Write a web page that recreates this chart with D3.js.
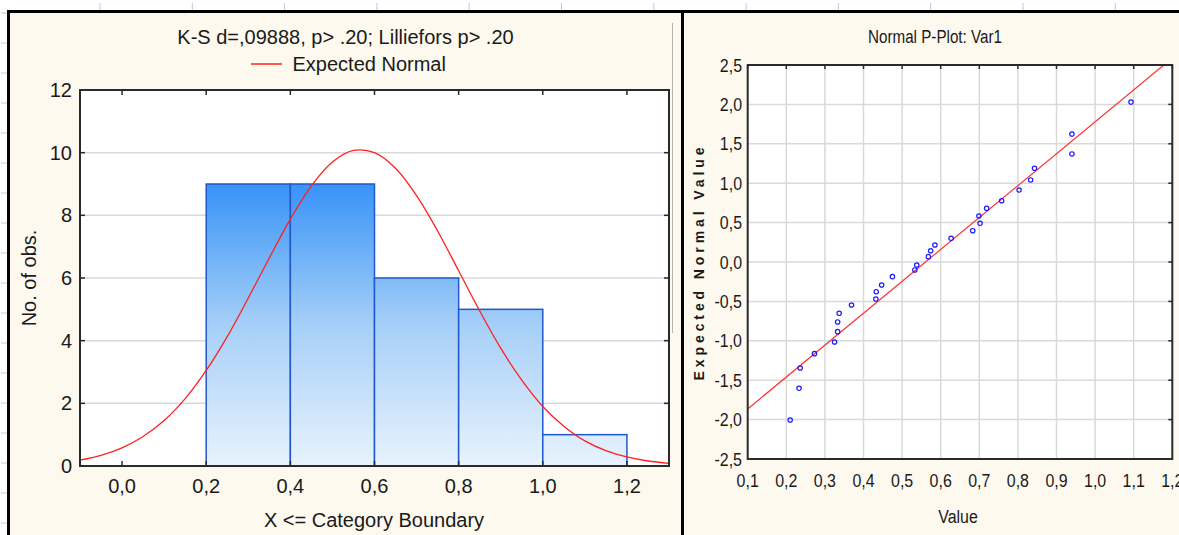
<!DOCTYPE html>
<html>
<head>
<meta charset="utf-8">
<script src="https://cdn.jsdelivr.net/npm/d3@7/dist/d3.min.js"></script>
<style>
  html, body { margin: 0; padding: 0; background: #fff; }
  svg { display: block; }
  .sans { font-family: 'Liberation Sans', Arial, sans-serif; }
  .narrow { font-family: 'Liberation Sans', Arial, sans-serif; }
</style>
</head>
<body>
<svg id="chart" width="1179" height="535"></svg>
<script>
// ---------------- Data ----------------
// Histogram (left panel)
const binStart = [0.2, 0.4, 0.6, 0.8, 1.0];
const binEnd   = [0.4, 0.6, 0.8, 1.0, 1.2];
const binCount = [9, 9, 6, 5, 1];
const histXTicks = [0.0, 0.2, 0.4, 0.6, 0.8, 1.0, 1.2];
const histYTicks = [0, 2, 4, 6, 8, 10, 12];
// Expected normal curve
const curveX = [-0.1, -0.05, 0.0, 0.05, 0.1, 0.15, 0.2, 0.25, 0.3, 0.35, 0.4, 0.45, 0.5, 0.55, 0.6, 0.65, 0.7, 0.75, 0.8, 0.85, 0.9, 0.95, 1.0, 1.05, 1.1, 1.15, 1.2, 1.25, 1.3];
const curveY = [0.19, 0.34, 0.58, 0.94, 1.45, 2.15, 3.05, 4.13, 5.36, 6.64, 7.88, 8.94, 9.70, 10.07, 10.00, 9.50, 8.63, 7.50, 6.23, 4.95, 3.76, 2.74, 1.90, 1.27, 0.80, 0.49, 0.29, 0.16, 0.085];
const histTitle = "K-S d=,09888, p> .20; Lilliefors p> .20";
const histLegend = "Expected Normal";
const histXLabel = "X <= Category Boundary";
const histYLabel = "No. of obs.";

// Normal probability plot (right panel)
const ppX = [0.210, 0.233, 0.236, 0.273, 0.325, 0.333, 0.333, 0.337, 0.369, 0.432, 0.433, 0.447, 0.475, 0.533, 0.538, 0.568, 0.574, 0.585, 0.627, 0.683, 0.699, 0.702, 0.719, 0.758, 0.803, 0.833, 0.843, 0.940, 0.940, 1.093];
const ppY = [-2.005, -1.603, -1.345, -1.163, -1.015, -0.884, -0.761, -0.651, -0.546, -0.470, -0.377, -0.292, -0.186, -0.101, -0.038, 0.068, 0.143, 0.216, 0.300, 0.397, 0.584, 0.491, 0.681, 0.778, 0.914, 1.041, 1.189, 1.371, 1.624, 2.030];
const ppLineX = [0.1, 1.178];
const ppLineY = [-1.865, 2.5];
const ppXTicks = [0.1, 0.2, 0.3, 0.4, 0.5, 0.6, 0.7, 0.8, 0.9, 1.0, 1.1, 1.2];
const ppYTicks = [-2.5, -2.0, -1.5, -1.0, -0.5, 0.0, 0.5, 1.0, 1.5, 2.0, 2.5];
const ppTitle = "Normal P-Plot: Var1";
const ppXLabel = "Value";
const ppYLabel = "Expected Normal Value";

// ---------------- Drawing ----------------
const svg = d3.select("#chart");
const W = 1179, H = 535;
const cream = "#fdf9ef";
const gridC = "#d9d9d9";
const frameC = "#2a2a2a";
const txtC = "#1a1a1a";
const fmt1 = d => d3.format(".1f")(d).replace(".", ",").replace("\u2212", "-");
const NS = 0.84; // horizontal squeeze for the narrow font of the right panel

// background strips with faint ticks
svg.append("rect").attr("width", W).attr("height", H).attr("fill", "#fff");
const topTicks = d3.range(0, 12).map(i => 100 + i * 92.3);
svg.selectAll(".tt").data(topTicks).join("line")
  .attr("x1", d => d).attr("x2", d => d).attr("y1", 3).attr("y2", 10)
  .attr("stroke", "#c8c8c8").attr("stroke-width", 1);
const leftTicks = d3.range(0, 18).map(i => 13 + i * 30);
svg.selectAll(".lt").data(leftTicks).join("line")
  .attr("x1", 1).attr("x2", 7).attr("y1", d => d).attr("y2", d => d)
  .attr("stroke", "#c8c8c8").attr("stroke-width", 1);

// panels
svg.append("rect").attr("x", 8).attr("y", 11).attr("width", 674).attr("height", H - 11).attr("fill", cream);
svg.append("rect").attr("x", 682).attr("y", 11).attr("width", W - 682).attr("height", H - 11).attr("fill", cream);
svg.append("line").attr("x1", 672.5).attr("x2", 672.5).attr("y1", 23).attr("y2", 333).attr("stroke", "#b4b4b4").attr("stroke-width", 1);

// ===== Left panel: histogram =====
const L = { x0: 80, x1: 669, y0: 90, y1: 466 };
const hx = d3.scaleLinear().domain([-0.1, 1.3]).range([L.x0, L.x1]);
const hy = d3.scaleLinear().domain([0, 12]).range([L.y1, L.y0]);

svg.append("rect").attr("x", L.x0).attr("y", L.y0).attr("width", L.x1 - L.x0).attr("height", L.y1 - L.y0).attr("fill", "#fff");

svg.append("g").selectAll("line").data(histYTicks.filter(d => d > 0 && d < 12)).join("line")
  .attr("x1", L.x0).attr("x2", L.x1).attr("y1", d => hy(d)).attr("y2", d => hy(d))
  .attr("stroke", gridC).attr("stroke-width", 1.5);

const defs = svg.append("defs");
const grad = defs.append("linearGradient").attr("id", "barGrad")
  .attr("gradientUnits", "userSpaceOnUse")
  .attr("x1", 0).attr("x2", 0).attr("y1", hy(9)).attr("y2", hy(0));
grad.append("stop").attr("offset", "0").attr("stop-color", "#3893f7");
grad.append("stop").attr("offset", "0.5").attr("stop-color", "#a6cff8");
grad.append("stop").attr("offset", "1").attr("stop-color", "#e8f3fd");

defs.append("clipPath").attr("id", "clipL").append("rect")
  .attr("x", L.x0).attr("y", L.y0).attr("width", L.x1 - L.x0).attr("height", L.y1 - L.y0);

const bars = binCount.map((c, i) => ({ s: binStart[i], e: binEnd[i], c }));
svg.append("g").selectAll("rect").data(bars).join("rect")
  .attr("x", d => hx(d.s)).attr("width", d => hx(d.e) - hx(d.s))
  .attr("y", d => hy(d.c)).attr("height", d => hy(0) - hy(d.c))
  .attr("fill", "url(#barGrad)").attr("stroke", "#2158cc").attr("stroke-width", 1.5);

const curvePts = curveX.map((x, i) => [x, curveY[i]]);
svg.append("path").datum(curvePts)
  .attr("clip-path", "url(#clipL)")
  .attr("d", d3.line().x(d => hx(d[0])).y(d => hy(d[1])).curve(d3.curveCatmullRom))
  .attr("fill", "none").attr("stroke", "#ff2020").attr("stroke-width", 1.3);

const gL = svg.append("g");
gL.selectAll(".xb").data(histXTicks).join("line")
  .attr("x1", d => hx(d)).attr("x2", d => hx(d)).attr("y1", L.y1).attr("y2", L.y1 - 5)
  .attr("stroke", frameC).attr("stroke-width", 1.5);
gL.selectAll(".xt").data(histXTicks).join("line")
  .attr("x1", d => hx(d)).attr("x2", d => hx(d)).attr("y1", L.y0).attr("y2", L.y0 + 5)
  .attr("stroke", frameC).attr("stroke-width", 1.5);
gL.selectAll(".yl").data(histYTicks).join("line")
  .attr("x1", L.x0).attr("x2", L.x0 + 5).attr("y1", d => hy(d)).attr("y2", d => hy(d))
  .attr("stroke", frameC).attr("stroke-width", 1.5);
gL.selectAll(".yr").data(histYTicks).join("line")
  .attr("x1", L.x1).attr("x2", L.x1 - 5).attr("y1", d => hy(d)).attr("y2", d => hy(d))
  .attr("stroke", frameC).attr("stroke-width", 1.5);
gL.append("rect").attr("x", L.x0).attr("y", L.y0).attr("width", L.x1 - L.x0).attr("height", L.y1 - L.y0)
  .attr("fill", "none").attr("stroke", frameC).attr("stroke-width", 2);

gL.selectAll(".ylab").data(histYTicks).join("text").attr("class", "sans")
  .attr("x", 72).attr("y", d => hy(d) + 7).attr("text-anchor", "end")
  .attr("font-size", 20).attr("fill", txtC).text(d => d);
gL.selectAll(".xlab").data(histXTicks).join("text").attr("class", "sans")
  .attr("x", d => hx(d)).attr("y", 493).attr("text-anchor", "middle")
  .attr("font-size", 20).attr("fill", txtC).text(d => fmt1(d));
gL.append("text").attr("class", "sans").attr("x", 374).attr("y", 526.5).attr("text-anchor", "middle")
  .attr("font-size", 20).attr("fill", txtC).text(histXLabel);
gL.append("text").attr("class", "sans").attr("transform", "translate(36,278) rotate(-90)")
  .attr("text-anchor", "middle").attr("font-size", 20).attr("fill", txtC).text(histYLabel);
gL.append("text").attr("class", "sans").attr("x", 345.5).attr("y", 43.5).attr("text-anchor", "middle")
  .attr("font-size", 20).attr("fill", txtC).text(histTitle);
gL.append("line").attr("x1", 251).attr("x2", 282).attr("y1", 64).attr("y2", 64)
  .attr("stroke", "#ff2020").attr("stroke-width", 1.5);
gL.append("text").attr("class", "sans").attr("x", 292.5).attr("y", 71).attr("font-size", 20)
  .attr("fill", txtC).text(histLegend);

// ===== Right panel: normal P-plot =====
const R = { x0: 747.7, x1: 1172.3, y0: 65, y1: 459 };
const px = d3.scaleLinear().domain([0.1, 1.2]).range([R.x0, R.x1]);
const py = d3.scaleLinear().domain([-2.5, 2.5]).range([R.y1, R.y0]);

svg.append("rect").attr("x", R.x0).attr("y", R.y0).attr("width", R.x1 - R.x0).attr("height", R.y1 - R.y0).attr("fill", "#fff");
defs.append("clipPath").attr("id", "clipR").append("rect")
  .attr("x", R.x0).attr("y", R.y0).attr("width", R.x1 - R.x0).attr("height", R.y1 - R.y0);

const gR = svg.append("g");
gR.selectAll(".gx").data(ppXTicks.slice(1, -1)).join("line")
  .attr("x1", d => px(d)).attr("x2", d => px(d)).attr("y1", R.y0).attr("y2", R.y1)
  .attr("stroke", gridC).attr("stroke-width", 1.5);
gR.selectAll(".gy").data(ppYTicks.slice(1, -1)).join("line")
  .attr("x1", R.x0).attr("x2", R.x1).attr("y1", d => py(d)).attr("y2", d => py(d))
  .attr("stroke", gridC).attr("stroke-width", 1.5);

gR.append("line").attr("clip-path", "url(#clipR)")
  .attr("x1", px(ppLineX[0])).attr("y1", py(ppLineY[0]))
  .attr("x2", px(ppLineX[1])).attr("y2", py(ppLineY[1]))
  .attr("stroke", "#ff3030").attr("stroke-width", 1.2);

gR.selectAll("circle").data(ppX.map((x, i) => [x, ppY[i]])).join("circle")
  .attr("cx", d => px(d[0])).attr("cy", d => py(d[1])).attr("r", 2.2)
  .attr("fill", "none").attr("stroke", "#1a1aff").attr("stroke-width", 1.2);

gR.selectAll(".tx").data(ppXTicks).join("line")
  .attr("x1", d => px(d)).attr("x2", d => px(d)).attr("y1", R.y0).attr("y2", R.y0 + 4)
  .attr("stroke", frameC).attr("stroke-width", 1.5);
gR.selectAll(".ty").data(ppYTicks).join("line")
  .attr("x1", R.x1).attr("x2", R.x1 - 4).attr("y1", d => py(d)).attr("y2", d => py(d))
  .attr("stroke", frameC).attr("stroke-width", 1.5);
gR.append("rect").attr("x", R.x0).attr("y", R.y0).attr("width", R.x1 - R.x0).attr("height", R.y1 - R.y0)
  .attr("fill", "none").attr("stroke", frameC).attr("stroke-width", 2);

// narrow texts: translate to anchor, then squeeze horizontally
gR.selectAll(".ylab").data(ppYTicks).join("text").attr("class", "narrow")
  .attr("transform", d => `translate(742,${py(d) + 6.5}) scale(${NS},1)`).attr("text-anchor", "end")
  .attr("font-size", 19).attr("fill", txtC).text(d => fmt1(d));
gR.selectAll(".xlab").data(ppXTicks).join("text").attr("class", "narrow")
  .attr("transform", d => `translate(${px(d)},487) scale(${NS},1)`).attr("text-anchor", "middle")
  .attr("font-size", 19).attr("fill", txtC).text(d => fmt1(d));
gR.append("text").attr("class", "narrow").attr("transform", `translate(958,522.5) scale(${NS},1)`)
  .attr("text-anchor", "middle").attr("font-size", 19).attr("fill", txtC).text(ppXLabel);
gR.append("text").attr("class", "narrow").attr("transform", `translate(935,42.7) scale(0.8,1)`)
  .attr("text-anchor", "middle").attr("font-size", 19).attr("fill", txtC).text(ppTitle);
gR.append("text").attr("class", "narrow").attr("transform", "translate(704,262) rotate(-90)")
  .attr("text-anchor", "middle").attr("font-size", 14).attr("font-weight", "bold")
  .attr("letter-spacing", 3.9).attr("fill", txtC).text(ppYLabel);

// outer black borders
svg.append("line").attr("x1", 7).attr("x2", W).attr("y1", 11.5).attr("y2", 11.5).attr("stroke", "#000").attr("stroke-width", 3);
svg.append("line").attr("x1", 8.5).attr("x2", 8.5).attr("y1", 10).attr("y2", H).attr("stroke", "#000").attr("stroke-width", 3);
svg.append("line").attr("x1", 682.5).attr("x2", 682.5).attr("y1", 10).attr("y2", H).attr("stroke", "#000").attr("stroke-width", 3);
</script>
</body>
</html>
